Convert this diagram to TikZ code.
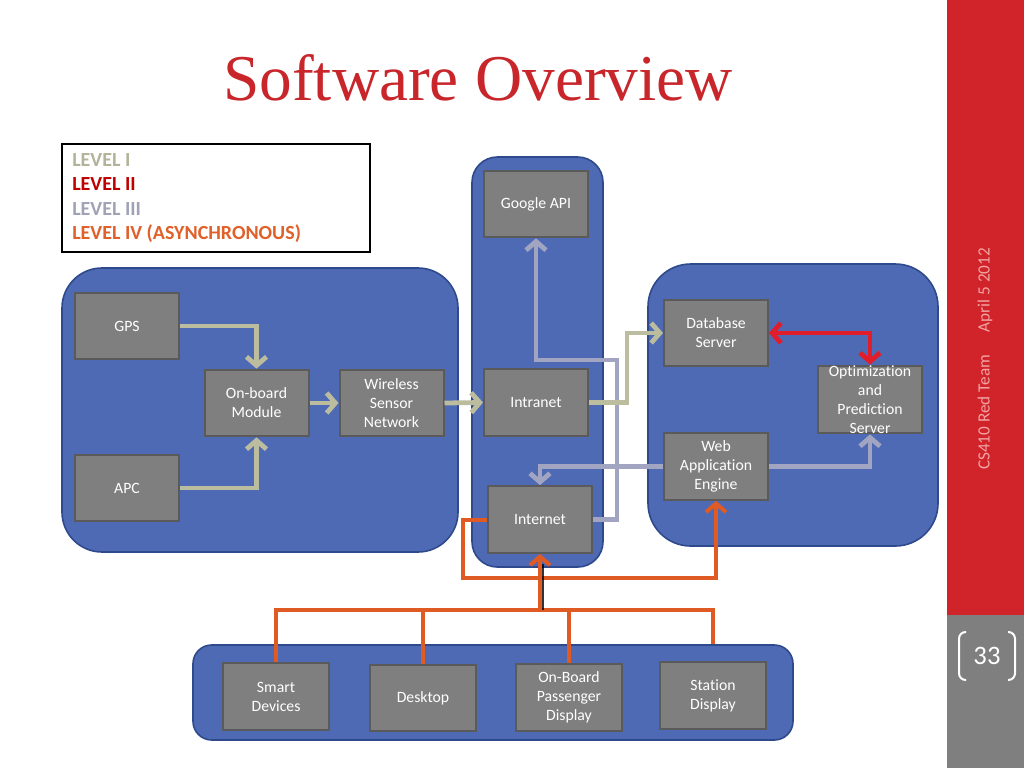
\documentclass[tikz,border=0pt]{standalone}
\usepackage{fontspec}
\setmainfont{Carlito}[Ligatures=NoCommon]
\newfontfamily\titlefont{Liberation Serif}
\usetikzlibrary{arrows.meta,calc}
\definecolor{cblue}{HTML}{4F6AB4}
\definecolor{cblueborder}{HTML}{2E4A8C}
\definecolor{cgray}{HTML}{7F7F7F}
\definecolor{cgrayborder}{HTML}{5A5A5A}
\definecolor{lvone}{HTML}{BCBC9E}
\definecolor{lvtwo}{HTML}{E01E2B}
\definecolor{lvthree}{HTML}{A2A5C2}
\definecolor{lvfour}{HTML}{E05A24}
\definecolor{legone}{HTML}{B3B39A}
\definecolor{legtwo}{HTML}{C00000}
\definecolor{legthree}{HTML}{A0A2B6}
\definecolor{legfour}{HTML}{E0602A}
\definecolor{sidered}{HTML}{D1232A}
\definecolor{sidegray}{HTML}{7F7F7F}
\definecolor{sidetext}{HTML}{F2A3A3}
\definecolor{titlered}{HTML}{C8262B}
\tikzset{
  container/.style={fill=cblue, draw=cblueborder, line width=1.2pt},
  graybox/.style={fill=cgray, draw=cgrayborder, line width=1.5pt, text=white,
    align=center, inner sep=0pt, minimum width=78pt, minimum height=50pt,
    font=\fontsize{11.8}{14.2}\selectfont},
  tipbarb/.tip={Straight Barb[length=6.5pt,width=15pt]},
  lone/.style={draw=lvone, line width=3.6pt, line join=miter},
  ltwo/.style={draw=lvtwo, line width=3.6pt, line join=miter},
  lthree/.style={draw=lvthree, line width=3.6pt, line join=miter},
  lfour/.style={draw=lvfour, line width=3pt, line join=miter},
  legendtext/.style={font=\fontsize{15}{16}\selectfont\bfseries, anchor=base west, inner sep=0pt},
}
\begin{document}
\begin{tikzpicture}[x=0.75pt, y=-0.75pt]
\useasboundingbox (0,0) rectangle (1024,768);
\fill[white] (0,0) rectangle (1024,768);
% sidebar
\fill[sidered] (947,0) rectangle (1024,615);
\fill[sidegray] (947,615) rectangle (1024,768);
\node[text=sidetext, rotate=90, font=\fontsize{12.9}{14}\selectfont, inner sep=0pt] (side) at (985,359) {CS410 Red Team\hspace{17pt}April 5 2012};
\node[text=white, font=\fontsize{20}{22}\selectfont, inner sep=0pt] (pnum) at (987,656) {33};
\draw[white, line width=1.5pt, rounded corners=5pt] (966,632) -- (959,632) -- (959,680) -- (966,680);
\draw[white, line width=1.5pt, rounded corners=5pt] (1008,632) -- (1015,632) -- (1015,680) -- (1008,680);
% title
\node[text=titlered, font=\titlefont\fontsize{49}{56}\selectfont, anchor=base, inner sep=0pt] (title) at (478,100) {Software Overview};
% legend
\node[draw=black, line width=2pt, fill=white, minimum width=231pt, minimum height=81pt, inner sep=0pt] (legend) at (216,198) {};
\node[legendtext, text=legone] (l1) at (72,166) {LEVEL I};
\node[legendtext, text=legtwo] (l2) at (72,190.5) {LEVEL II};
\node[legendtext, text=legthree] (l3) at (72,215) {LEVEL III};
\node[legendtext, text=legfour] (l4) at (72,239.5) {LEVEL IV (ASYNCHRONOUS)};
% containers
\node[container, rounded corners=30pt, minimum width=297pt, minimum height=213pt] (leftc) at (260,410) {};
\node[container, rounded corners=19pt, minimum width=98.25pt, minimum height=307.5pt] (centc) at (537.5,362) {};
\node[container, rounded corners=32pt, minimum width=217.5pt, minimum height=211.5pt] (rightc) at (793,405) {};
\node[container, rounded corners=14pt, minimum width=450pt, minimum height=71.25pt] (botc) at (493,692.5) {};
% gray boxes
\node[graybox] (gps) at (127,326) {GPS};
\node[graybox] (apc) at (127,488) {APC};
\node[graybox] (onb) at (256.5,403) {On-board\\Module};
\node[graybox] (wsn) at (391.5,403) {Wireless\\Sensor\\Network};
\node[graybox] (google) at (536,204) {Google API};
\node[graybox] (intra) at (536,402.5) {Intranet};
\node[graybox] (inter) at (540,519.5) {Internet};
\node[graybox] (db) at (716,333) {Database\\Server};
\node[graybox] (opt) at (870,399.5) {Optimization\\and\\Prediction\\Server};
\node[graybox] (web) at (716,466.5) {Web\\Application\\Engine};
\node[graybox, minimum width=79.5pt] (smart) at (276,696.5) {Smart\\Devices};
\node[graybox, minimum width=79.5pt] (desk) at (423,698) {Desktop};
\node[graybox, minimum width=79.5pt] (obpd) at (569,697.5) {On-Board\\Passenger\\Display};
\node[graybox, minimum width=79.5pt] (station) at (713,695.5) {Station\\Display};
% level III
\draw[lthree, -tipbarb] (inter.east) -| (617,360) -| (google.south);
\draw[lthree, -tipbarb] (web.west) -| (inter.north);
\draw[lthree, -tipbarb] (web.east) -| (opt.south);
% level I
\draw[lone, -tipbarb] (gps.east) -| (onb.north);
\draw[lone, -tipbarb] (apc.east) -| (onb.south);
\draw[lone, -tipbarb] (onb.east) -- (wsn.west);
\draw[lone, -tipbarb] (wsn.east) -- (intra.west);
\draw[lone, -tipbarb] (intra.east) -| (627,360) |- (db.west);
% level II
\draw[ltwo, tipbarb-tipbarb] (db.east) -| (opt.north);
% level IV
\coordinate (bus) at (0,610);
\draw[lfour, -tipbarb] (inter.west) -| (463,578) -| (web.south);
\draw[lfour] (smart.north) |- (station.north |- bus) -- (station.north |- botc.north);
\draw[lfour] (desk.north) -- (desk.north |- bus);
\draw[lfour] (obpd.north) -- (obpd.north |- bus);
\draw[black, opacity=0.8, line width=2.5pt] ($(inter.south |- bus)+(2.5,0)$) -- ($(inter.south)+(2.5,10)$);
\draw[lfour, -tipbarb] (inter.south |- bus) -- (inter.south);
\end{tikzpicture}
\end{document}
